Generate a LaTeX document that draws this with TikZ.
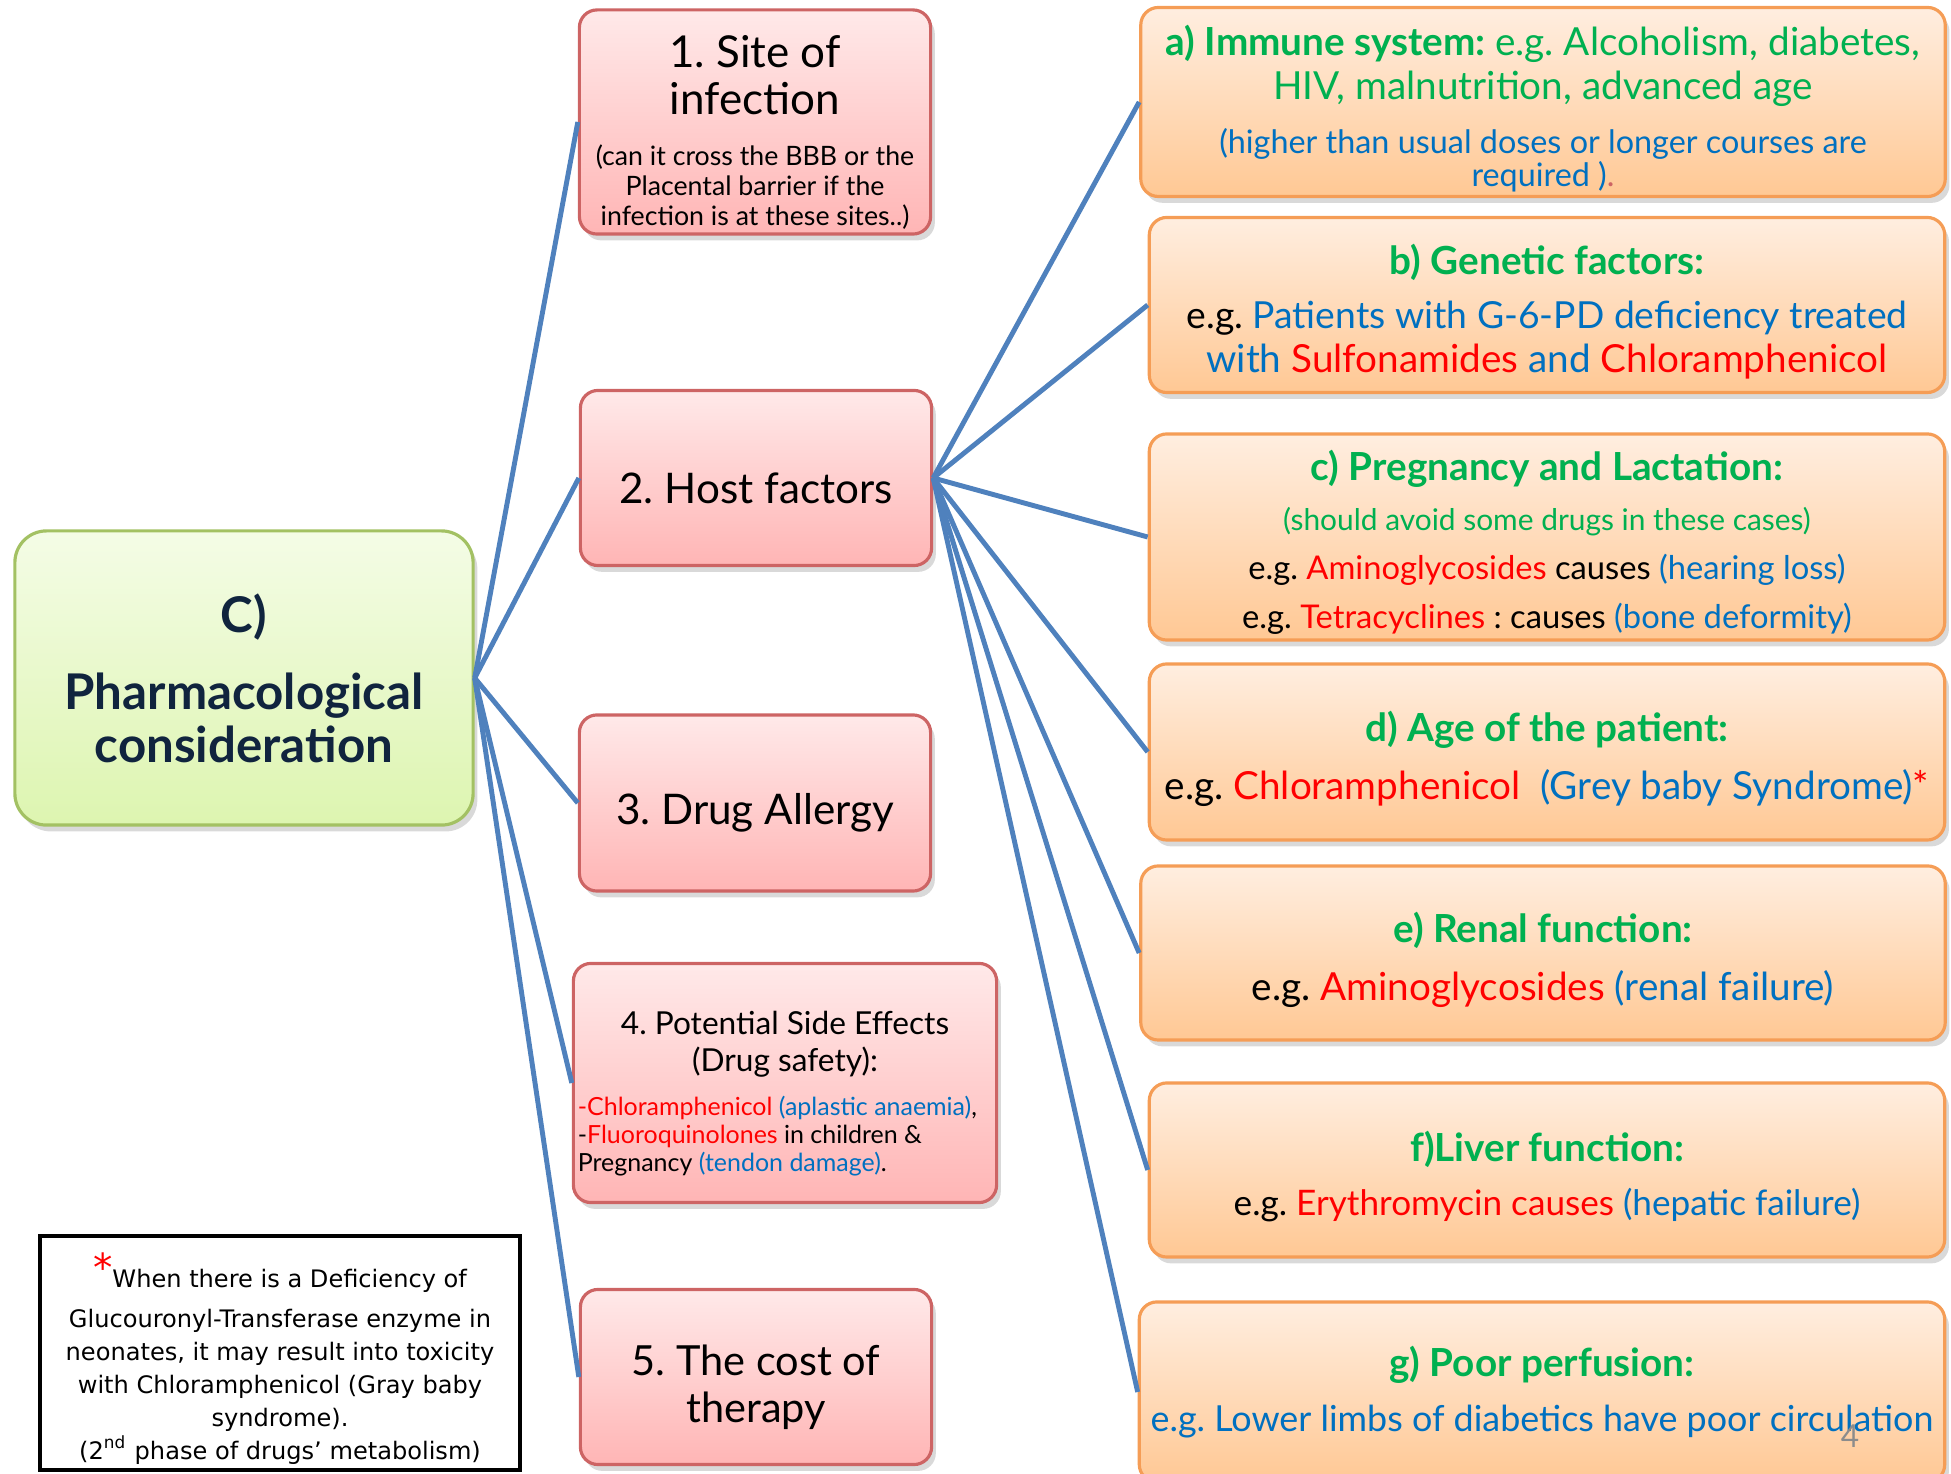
\documentclass[tikz,border=0pt]{standalone}
\usepackage{fontspec}
\setmainfont{Lato}
\newfontfamily\notefont{DejaVu Sans}
\usetikzlibrary{shadows}

\definecolor{linkblue}{HTML}{4F81BD}
\definecolor{txtgreen}{HTML}{00B050}
\definecolor{txtblue}{HTML}{0070C0}
\definecolor{txtred}{HTML}{FF0000}
\definecolor{navy}{HTML}{10243E}
\definecolor{pinkedge}{HTML}{CD6464}
\definecolor{pinktop}{HTML}{FFE9E9}
\definecolor{pinkbot}{HTML}{FFB5B5}
\definecolor{orangeedge}{HTML}{F59D56}
\definecolor{orangetop}{HTML}{FFEEE0}
\definecolor{orangebot}{HTML}{FFC894}
\definecolor{limeedge}{HTML}{A3C163}
\definecolor{limetop}{HTML}{F4FCE6}
\definecolor{limebot}{HTML}{DDF5B0}
\definecolor{pagegray}{HTML}{8C8C8C}

% invisible strut that pushes a box's text down a little
\newcommand{\topstrut}[1]{\rule{0pt}{#1}}

\begin{document}
\frenchspacing
\begin{tikzpicture}[x=0.01cm, y=-0.01cm]
    \tikzset{
        box/.style={rounded corners=5pt, line width=0.9pt, align=flush center, inner sep=0.04cm,
            drop shadow={shadow xshift=1.2pt, shadow yshift=-1.8pt, opacity=0.3}},
        mainbox/.style={box, draw=limeedge, top color=limetop, bottom color=limebot, rounded corners=9pt},
        causebox/.style={box, draw=pinkedge, top color=pinktop, bottom color=pinkbot},
        hostbox/.style={box, draw=orangeedge, top color=orangetop, bottom color=orangebot,
            font=\fontsize{11}{12.5}\selectfont},
        link/.style={color=linkblue, line width=1.4pt}
    }
    \path[use as bounding box, clip] (0,0) rectangle (1951,1474);

    % centre and considerations
    \node[mainbox, minimum width=4.58cm, minimum height=2.94cm, text width=4.45cm,
        font=\bfseries\fontsize{14}{15}\selectfont, text=navy] (pharma) at (244,678)
        {C)\\[7pt]Pharmacological\\consideration};

    \node[causebox, minimum width=3.51cm, minimum height=2.24cm, text width=3.42cm] (site) at (755,122)
        {{\fontsize{12.5}{13.5}\selectfont\topstrut{15pt}1. Site of\\infection\par}\vspace{6pt}
         {\fontsize{7.6}{8.5}\selectfont (can it cross the BBB or the\\Placental barrier if the\\infection is at these sites..)\par}};
    \node[causebox, minimum width=3.51cm, minimum height=1.75cm, text width=3.42cm,
        font=\fontsize{12}{14}\selectfont] (host) at (756,478) {\topstrut{14.6pt}2. Host factors};
    \node[causebox, minimum width=3.51cm, minimum height=1.76cm, text width=3.42cm,
        font=\fontsize{12}{14}\selectfont] (allergy) at (755,803) {\topstrut{14.6pt}3. Drug Allergy};
    \node[causebox, minimum width=4.23cm, minimum height=2.39cm, text width=4.14cm] (sideeff) at (785,1083)
        {{\fontsize{9}{10.4}\selectfont\topstrut{12.8pt}4. Potential Side Effects\\(Drug safety):\par}\vspace{4.5pt}
         {\fontsize{7.1}{8}\selectfont\leftskip=0pt\rightskip=0pt plus 1fil
          \textcolor{txtred}{-Chloramphenicol} \textcolor{txtblue}{(aplastic anaemia)},\\
          -\textcolor{txtred}{Fluoroquinolones} in children \&\\
          Pregnancy \textcolor{txtblue}{(tendon damage)}.\par}};
    \node[causebox, minimum width=3.51cm, minimum height=1.75cm, text width=3.42cm,
        font=\fontsize{11.8}{13.5}\selectfont] (cost) at (756,1377) {\topstrut{14.6pt}5. The cost of\\therapy};

    % host factors
    \node[hostbox, minimum width=8.04cm, minimum height=1.75cm, text width=7.96cm] (immune) at (1543,102)
        {{\color{txtgreen}\topstrut{12.4pt}\textbf{a) Immune system:} e.g. Alcoholism, diabetes,\\HIV, malnutrition, advanced age\par}\vspace{6pt}
         {\fontsize{9.2}{9.5}\selectfont\color{txtblue}(higher than usual doses or longer courses are\\required )\textcolor{pinkedge}{.}\par}};
    \node[hostbox, minimum width=7.95cm, minimum height=1.75cm, text width=7.87cm] (genetic) at (1547,305)
        {\topstrut{12.4pt}\textcolor{txtgreen}{\textbf{b) Genetic factors:}}\\[3pt]
         {\fontsize{10.6}{12.5}\selectfont e.g. \textcolor{txtblue}{Patients with G-6-PD deficiency treated}}\\
         \textcolor{txtblue}{with} \textcolor{txtred}{Sulfonamides} \textcolor{txtblue}{and} \textcolor{txtred}{Chloramphenicol}};
    \node[hostbox, minimum width=7.95cm, minimum height=2.06cm, text width=7.87cm,
        font=\fontsize{11}{14}\selectfont] (pregnancy) at (1547,537)
        {\topstrut{11.8pt}\textcolor{txtgreen}{\textbf{c) Pregnancy and Lactation:}}\\
         {\fontsize{8.5}{14}\selectfont\color{txtgreen}(should avoid some drugs in these cases)}\\
         {\fontsize{9.3}{14}\selectfont e.g. \textcolor{txtred}{Aminoglycosides} causes \textcolor{txtblue}{(hearing loss)}}\\
         {\fontsize{9.3}{14}\selectfont e.g. \textcolor{txtred}{Tetracyclines} : causes \textcolor{txtblue}{(bone deformity)}}};
    \node[hostbox, minimum width=7.95cm, minimum height=1.76cm, text width=7.87cm] (age) at (1547,752)
        {\topstrut{12.4pt}\textcolor{txtgreen}{\textbf{d) Age of the patient:}}\\[4pt]
         e.g. \textcolor{txtred}{Chloramphenicol}\ \ \textcolor{txtblue}{(Grey baby Syndrome)}\textcolor{txtred}{*}};
    \node[hostbox, minimum width=8.04cm, minimum height=1.74cm, text width=7.96cm] (renal) at (1543,953)
        {\topstrut{12.4pt}\textcolor{txtgreen}{\textbf{e) Renal function:}}\\[4pt]
         e.g. \textcolor{txtred}{Aminoglycosides} \textcolor{txtblue}{(renal failure)}};
    \node[hostbox, minimum width=7.95cm, minimum height=1.74cm, text width=7.87cm] (liver) at (1547,1170)
        {\topstrut{12.4pt}\textcolor{txtgreen}{\textbf{f)Liver function:}}\\[3pt]
         {\fontsize{10}{12.5}\selectfont e.g. \textcolor{txtred}{Erythromycin causes} \textcolor{txtblue}{(hepatic failure)}}};
    \node[hostbox, minimum width=8.05cm, minimum height=1.8cm, text width=7.97cm] (perfusion) at (1542,1392)
        {\textcolor{txtgreen}{\textbf{g) Poor perfusion:}}\\[3pt]
         {\fontsize{10.2}{12.5}\selectfont\color{txtblue}e.g. Lower limbs of diabetics have poor circulation}};

    % footnote
    \node[draw, line width=1.3pt, fill=white, minimum width=4.8cm, minimum height=2.34cm, text width=4.7cm,
        align=flush center, inner sep=0.05cm, font=\notefont\fontsize{6.85}{9.4}\selectfont] (note) at (280,1353)
        {\topstrut{13pt}\textcolor{txtred}{\raisebox{1.5pt}{\fontsize{11}{11}\selectfont*}}When there is a Deficiency of\\[2pt]
         Glucouronyl-Transferase enzyme in\\neonates, it may result into toxicity\\
         with Chloramphenicol (Gray baby\\syndrome).\\(2\textsuperscript{nd} phase of drugs’ metabolism)};

    \node[text=pagegray, font=\fontsize{9}{9}\selectfont] (pagenum) at (1850,1436) {4};

    \path[link]
    (pharma.east) edge (site.west)
    (pharma.east) edge (host.west)
    (pharma.east) edge (allergy.west)
    (pharma.east) edge (sideeff.west)
    (pharma.east) edge (cost.west)

    (host.east) edge (immune.west)
    (host.east) edge (genetic.west)
    (host.east) edge (pregnancy.west)
    (host.east) edge (age.west)
    (host.east) edge (renal.west)
    (host.east) edge (liver.west)
    (host.east) edge (perfusion.west);
\end{tikzpicture}
\end{document}
